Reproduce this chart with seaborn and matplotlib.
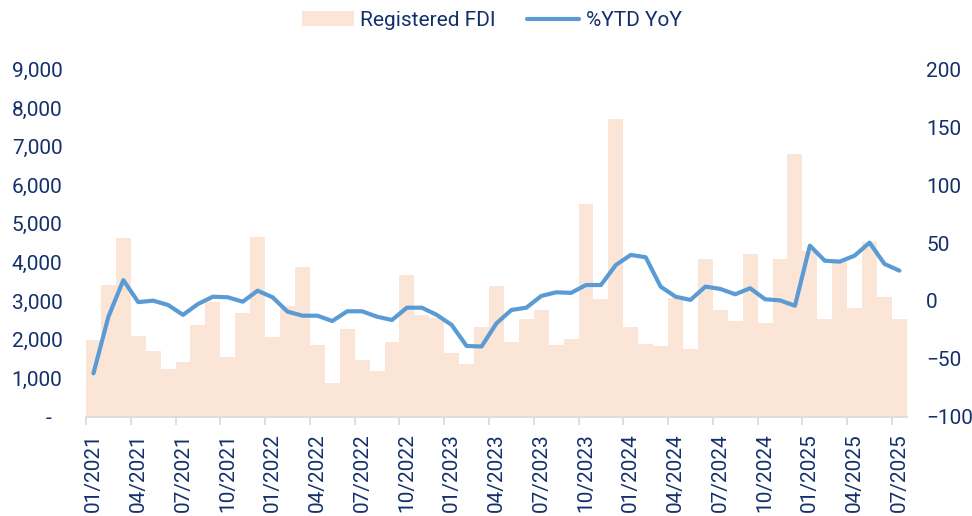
import numpy as np
import pandas as pd
import matplotlib
matplotlib.use("Agg")
import matplotlib.pyplot as plt
import seaborn as sns
from matplotlib.patches import Patch
from matplotlib.lines import Line2D
from matplotlib.ticker import FuncFormatter, FixedLocator

sns.set_theme(style="white")
plt.rcParams['font.family'] = ['Roboto', 'DejaVu Sans']

# 月份 01/2021 - 07/2025
months = pd.date_range("2021-01-01", "2025-07-01", freq="MS").strftime("%m/%Y").tolist()

# 注册FDI（百万美元）
fdi = [2000, 3410, 4640, 2090, 1700, 1240, 1410, 2370, 2980, 1560,
       2690, 4660, 2070, 2870, 3880, 1870, 870, 2280, 1480, 1190,
       1940, 3670, 2640, 2550, 1650, 1370, 2320, 3400, 1940, 2530,
       2770, 1870, 2020, 5510, 3060, 7720, 2330, 1890, 1840, 3070,
       1750, 4080, 2770, 2480, 4220, 2440, 4080, 6810, 4290, 2540,
       4060, 2830, 4530, 3100, 2540]

# 累计同比 %YTD YoY
ytd_yoy = [-62.5, -13.6, 18.0, -1.0, 0.3, -3.5, -12.0, -2.6, 3.7, 3.2,
           -0.6, 8.9, 3.2, -9.2, -12.7, -12.7, -17.3, -8.9, -8.9, -13.6,
           -16.4, -5.8, -5.8, -12.0, -20.7, -38.9, -39.3, -19.3, -7.8, -5.8,
           4.3, 7.5, 7.0, 13.8, 13.8, 31.1, 39.8, 37.8, 12.4, 3.7,
           0.9, 12.4, 10.4, 5.8, 11.0, 1.5, 0.5, -4.1, 47.8, 34.8,
           34.0, 39.2, 50.4, 32.0, 26.2]

df = pd.DataFrame({"month": months, "fdi": fdi, "yoy": ytd_yoy})
df["idx"] = np.arange(len(df))

navy = "#14306B"
bar_color = "#FBE5D6"
line_color = "#5B9BD5"
fs = 15

fig = plt.figure(figsize=(9.72, 5.16), dpi=100)
ax = fig.add_axes([0.0885, 0.1924, 0.8445, 0.6729])

sns.barplot(data=df, x="idx", y="fdi", color=bar_color, width=1.0,
            saturation=1, linewidth=0, ax=ax)
ax.set_ylim(0, 9000)
ax.set_yticks(np.arange(0, 9001, 1000))
# 0 显示为 "-"（会计格式）
ax.yaxis.set_major_formatter(FuncFormatter(lambda v, p: "-  " if v == 0 else f"{v:,.0f}"))

ax2 = ax.twinx()
sns.lineplot(data=df, x="idx", y="yoy", color=line_color, linewidth=3, ax=ax2)
ax2.set_ylim(-100, 200)
ax2.set_yticks(np.arange(-100, 201, 50))

ax.set_xlim(-0.5, len(df) - 0.5)
lab_pos = list(range(0, len(df), 3))
ax.set_xticks(lab_pos)
ax.set_xticklabels([months[i] for i in lab_pos], rotation=90)
ax.xaxis.set_minor_locator(FixedLocator([i - 0.5 for i in lab_pos]))
ax.tick_params(axis="x", which="major", length=0, pad=12, labelsize=fs, labelcolor=navy)
ax.tick_params(axis="x", which="minor", length=6, width=1.2, color="#D9D9D9", bottom=True)
ax.tick_params(axis="y", length=0, pad=17, labelsize=fs, labelcolor=navy)
ax2.tick_params(axis="y", length=0, pad=14, labelsize=fs, labelcolor=navy)

for a in (ax, ax2):
    a.set_xlabel("")
    a.set_ylabel("")
    a.grid(False)
    for s in ["top", "left", "right"]:
        a.spines[s].set_visible(False)
ax.spines["bottom"].set_color("#D9D9D9")
ax.spines["bottom"].set_linewidth(1.2)
ax2.spines["bottom"].set_visible(False)

handles = [Patch(facecolor=bar_color, edgecolor="none", label="Registered FDI"),
           Line2D([0], [0], color=line_color, linewidth=3, label="%YTD YoY")]
leg = fig.legend(handles=handles, loc="upper center", bbox_to_anchor=(0.506, 1.015),
                 ncol=2, frameon=False, fontsize=fs, handlelength=2.5,
                 columnspacing=1.5, handletextpad=0.3)
for t in leg.get_texts():
    t.set_color(navy)

fig.savefig("out.png", dpi=100)
